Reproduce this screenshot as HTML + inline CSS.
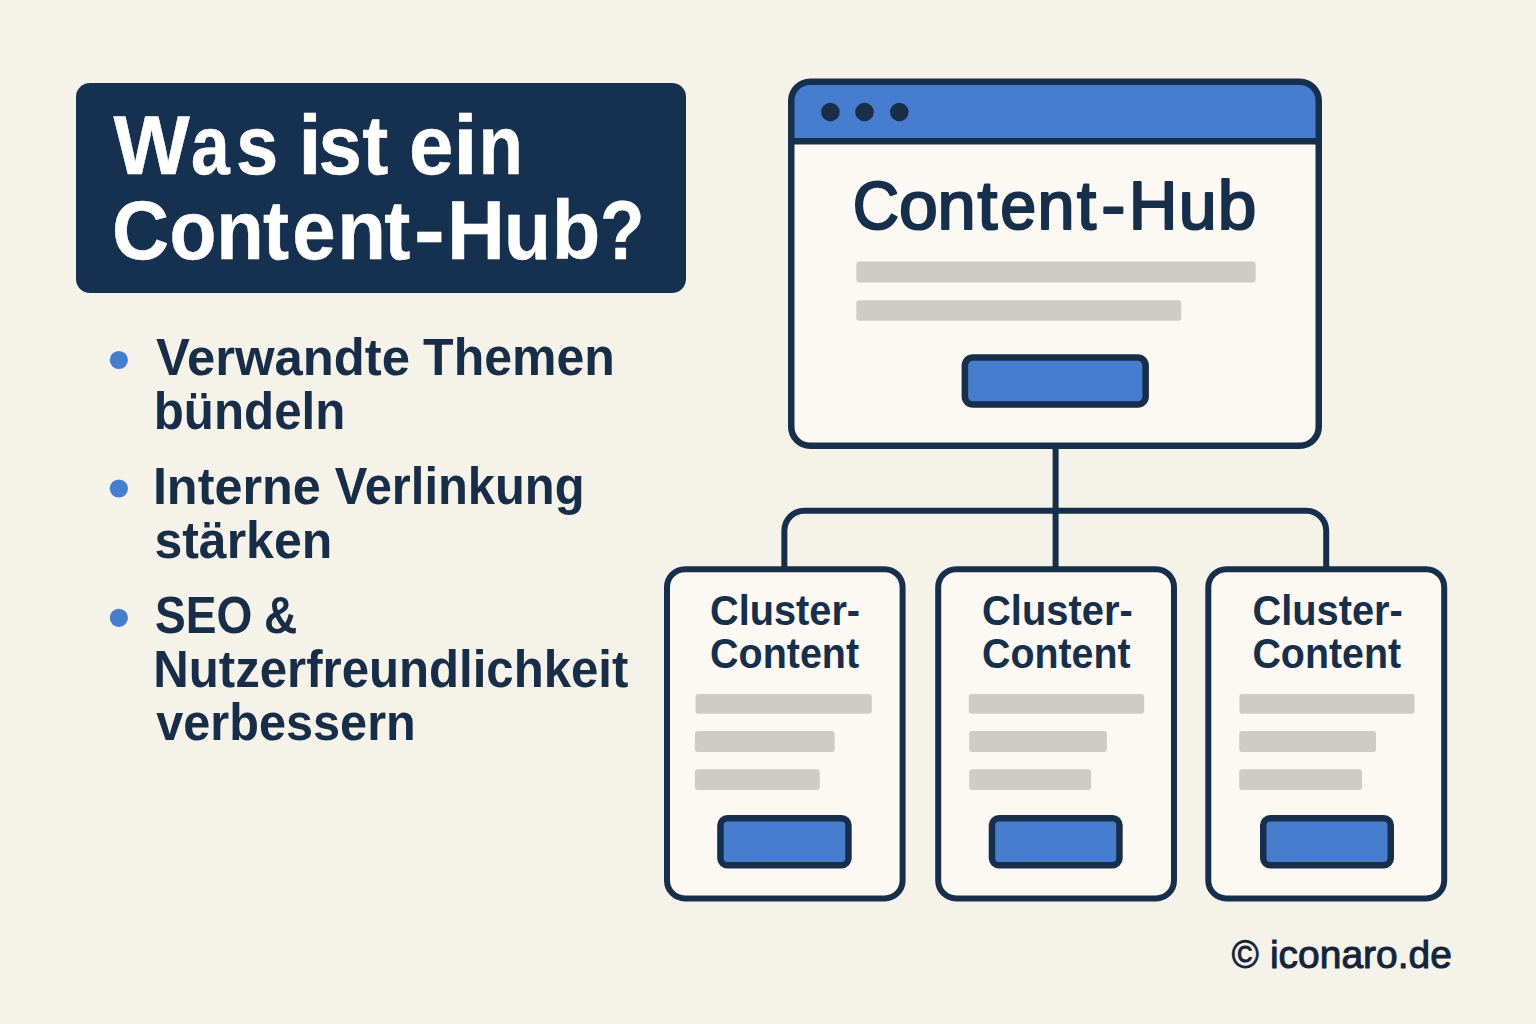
<!DOCTYPE html>
<html><head><meta charset="utf-8"><title>Was ist ein Content-Hub?</title>
<style>
html,body{margin:0;padding:0;width:1536px;height:1024px;overflow:hidden;background:#F5F2EA;}
svg{display:block;font-family:"Liberation Sans",sans-serif;}
</style></head><body>
<svg width="1536" height="1024" viewBox="0 0 1536 1024">
<rect width="1536" height="1024" fill="#F5F2EA"/>
<rect x="76" y="83" width="610" height="210" rx="14" fill="#16304F"/>
<circle cx="118.85" cy="360.0" r="9.1" fill="#467DCE"/>
<circle cx="118.85" cy="488.5" r="9.1" fill="#467DCE"/>
<circle cx="118.85" cy="617.8" r="9.1" fill="#467DCE"/>
<defs><clipPath id="hubclip"><rect x="791.25" y="81.75" width="527.5" height="364" rx="19"/></clipPath></defs>
<rect x="791.25" y="81.75" width="527.5" height="364" rx="19" fill="#FCF9F4"/>
<rect x="780" y="70" width="560" height="71.2" fill="#467DCE" clip-path="url(#hubclip)"/>
<line x1="788" y1="141.2" x2="1322" y2="141.2" stroke="#182F4B" stroke-width="6.5"/>
<rect x="791.25" y="81.75" width="527.5" height="364" rx="19" fill="none" stroke="#182F4B" stroke-width="6.5"/>
<circle cx="830.4" cy="112" r="9.3" fill="#1A2E4A"/>
<circle cx="864.5" cy="112" r="9.3" fill="#1A2E4A"/>
<circle cx="899.3" cy="112" r="9.3" fill="#1A2E4A"/>
<rect x="856.3" y="261.5" width="399.4" height="21" rx="3" fill="#CFCBC7"/>
<rect x="856.3" y="300.3" width="325" height="20.4" rx="3" fill="#CFCBC7"/>
<rect x="964.85" y="357.55" width="180.8" height="47.0" rx="8" fill="#467DCE" stroke="#182F4B" stroke-width="6.5"/>
<line x1="1055.6" y1="445" x2="1055.6" y2="570" stroke="#182F4B" stroke-width="6"/>
<path d="M784.35,570 V530.8 A20,20 0 0 1 804.3,510.8 H1306.2 A20,20 0 0 1 1326.2,530.8 V570" fill="none" stroke="#182F4B" stroke-width="6"/>
<rect x="667.00" y="569.20" width="235.60" height="329.30" rx="18" fill="#FCF9F4" stroke="#182F4B" stroke-width="6.0"/>
<rect x="695.50" y="694.10" width="176.30" height="19.60" rx="3" fill="#CFCBC7"/>
<rect x="694.90" y="731.10" width="139.80" height="20.80" rx="3" fill="#CFCBC7"/>
<rect x="694.90" y="769.20" width="124.90" height="20.80" rx="3" fill="#CFCBC7"/>
<rect x="720.45" y="818.25" width="128.00" height="47.00" rx="7" fill="#467DCE" stroke="#182F4B" stroke-width="6.5"/>
<rect x="938.20" y="569.20" width="235.80" height="329.30" rx="18" fill="#FCF9F4" stroke="#182F4B" stroke-width="6.0"/>
<rect x="968.75" y="694.10" width="175.35" height="19.60" rx="3" fill="#CFCBC7"/>
<rect x="969.20" y="731.10" width="137.70" height="20.80" rx="3" fill="#CFCBC7"/>
<rect x="969.20" y="769.20" width="121.90" height="20.80" rx="3" fill="#CFCBC7"/>
<rect x="991.95" y="818.25" width="127.50" height="47.00" rx="7" fill="#467DCE" stroke="#182F4B" stroke-width="6.5"/>
<rect x="1208.30" y="569.20" width="235.90" height="329.30" rx="18" fill="#FCF9F4" stroke="#182F4B" stroke-width="6.0"/>
<rect x="1239.40" y="694.10" width="175.20" height="19.60" rx="3" fill="#CFCBC7"/>
<rect x="1239.20" y="731.10" width="136.80" height="20.80" rx="3" fill="#CFCBC7"/>
<rect x="1239.20" y="769.20" width="122.80" height="20.80" rx="3" fill="#CFCBC7"/>
<rect x="1263.25" y="818.25" width="127.50" height="47.00" rx="7" fill="#467DCE" stroke="#182F4B" stroke-width="6.5"/>
<text transform="translate(113.44 174.40) scale(0.9604 1)" font-weight="bold" font-size="84.20" fill="#FFFFFF" stroke="#FFFFFF" stroke-width="0.50" stroke-linejoin="round">W</text>
<text transform="translate(191.11 174.40) scale(0.8267 1)" font-weight="bold" font-size="84.20" fill="#FFFFFF" stroke="#FFFFFF" stroke-width="0.50" stroke-linejoin="round">a</text>
<text transform="translate(235.95 174.40) scale(0.9028 1)" font-weight="bold" font-size="84.20" fill="#FFFFFF" stroke="#FFFFFF" stroke-width="0.50" stroke-linejoin="round">s</text>
<text transform="translate(298.17 174.40) scale(1.0053 1)" font-weight="bold" font-size="84.20" fill="#FFFFFF" stroke="#FFFFFF" stroke-width="0.50" stroke-linejoin="round">i</text>
<text transform="translate(318.49 174.40) scale(0.9268 1)" font-weight="bold" font-size="84.20" fill="#FFFFFF" stroke="#FFFFFF" stroke-width="0.50" stroke-linejoin="round">s</text>
<text transform="translate(362.25 174.40) scale(0.9292 1)" font-weight="bold" font-size="84.20" fill="#FFFFFF" stroke="#FFFFFF" stroke-width="0.50" stroke-linejoin="round">t</text>
<text transform="translate(408.94 174.40) scale(0.9507 1)" font-weight="bold" font-size="84.20" fill="#FFFFFF" stroke="#FFFFFF" stroke-width="0.50" stroke-linejoin="round">e</text>
<text transform="translate(452.88 174.40) scale(1.0663 1)" font-weight="bold" font-size="84.20" fill="#FFFFFF" stroke="#FFFFFF" stroke-width="0.50" stroke-linejoin="round">i</text>
<text transform="translate(478.45 174.40) scale(0.8645 1)" font-weight="bold" font-size="84.20" fill="#FFFFFF" stroke="#FFFFFF" stroke-width="0.50" stroke-linejoin="round">n</text>
<text transform="translate(111.98 259.20) scale(0.9381 1)" font-weight="bold" font-size="84.20" fill="#FFFFFF" stroke="#FFFFFF" stroke-width="0.50" stroke-linejoin="round">C</text>
<text transform="translate(169.62 259.20) scale(0.9122 1)" font-weight="bold" font-size="84.20" fill="#FFFFFF" stroke="#FFFFFF" stroke-width="0.50" stroke-linejoin="round">o</text>
<text transform="translate(216.16 259.20) scale(0.9244 1)" font-weight="bold" font-size="84.20" fill="#FFFFFF" stroke="#FFFFFF" stroke-width="0.50" stroke-linejoin="round">n</text>
<text transform="translate(262.95 259.20) scale(0.9292 1)" font-weight="bold" font-size="84.20" fill="#FFFFFF" stroke="#FFFFFF" stroke-width="0.50" stroke-linejoin="round">t</text>
<text transform="translate(292.19 259.20) scale(0.9272 1)" font-weight="bold" font-size="84.20" fill="#FFFFFF" stroke="#FFFFFF" stroke-width="0.50" stroke-linejoin="round">e</text>
<text transform="translate(337.15 259.20) scale(0.9483 1)" font-weight="bold" font-size="84.20" fill="#FFFFFF" stroke="#FFFFFF" stroke-width="0.50" stroke-linejoin="round">n</text>
<text transform="translate(384.25 259.20) scale(0.9292 1)" font-weight="bold" font-size="84.20" fill="#FFFFFF" stroke="#FFFFFF" stroke-width="0.50" stroke-linejoin="round">t</text>
<text transform="translate(413.90 259.20) scale(1.0975 1)" font-weight="bold" font-size="84.20" fill="#FFFFFF" stroke="#FFFFFF" stroke-width="0.50" stroke-linejoin="round">-</text>
<text transform="translate(447.03 259.20) scale(0.9526 1)" font-weight="bold" font-size="84.20" fill="#FFFFFF" stroke="#FFFFFF" stroke-width="0.50" stroke-linejoin="round">H</text>
<text transform="translate(504.01 259.20) scale(0.9148 1)" font-weight="bold" font-size="84.20" fill="#FFFFFF" stroke="#FFFFFF" stroke-width="0.50" stroke-linejoin="round">u</text>
<text transform="translate(551.67 259.20) scale(0.9438 1)" font-weight="bold" font-size="84.20" fill="#FFFFFF" stroke="#FFFFFF" stroke-width="0.50" stroke-linejoin="round">b</text>
<text transform="translate(600.00 259.20) scale(0.8649 1)" font-weight="bold" font-size="84.20" fill="#FFFFFF" stroke="#FFFFFF" stroke-width="0.50" stroke-linejoin="round">?</text>
<text transform="translate(155.90 374.90) scale(0.9848 1)" font-weight="bold" font-size="51.60" fill="#182D47">Verwandte</text>
<text transform="translate(423.10 374.90) scale(0.9697 1)" font-weight="bold" font-size="51.60" fill="#182D47">Themen</text>
<text transform="translate(153.74 428.50) scale(0.9553 1)" font-weight="bold" font-size="51.60" fill="#182D47">bündeln</text>
<text transform="translate(152.88 504.00) scale(0.9762 1)" font-weight="bold" font-size="51.60" fill="#182D47">Interne</text>
<text transform="translate(334.80 504.00) scale(0.9468 1)" font-weight="bold" font-size="51.60" fill="#182D47">Verlinkung</text>
<text transform="translate(154.40 557.80) scale(0.9693 1)" font-weight="bold" font-size="51.60" fill="#182D47">stärken</text>
<text transform="translate(154.98 632.70) scale(0.8935 1)" font-weight="bold" font-size="51.60" fill="#182D47">SEO</text>
<text transform="translate(264.06 632.70) scale(0.8926 1)" font-weight="bold" font-size="51.60" fill="#182D47">&amp;</text>
<text transform="translate(153.35 687.00) scale(0.9524 1)" font-weight="bold" font-size="51.60" fill="#182D47">Nutzerfreundlichkeit</text>
<text transform="translate(156.30 739.80) scale(0.9422 1)" font-weight="bold" font-size="51.60" fill="#182D47">verbessern</text>
<text transform="translate(710.01 624.90) scale(0.9527 1)" font-weight="bold" font-size="41.70" fill="#182F4B">Cluster-</text>
<text transform="translate(710.02 667.70) scale(0.9467 1)" font-weight="bold" font-size="41.70" fill="#182F4B">Content</text>
<text transform="translate(982.00 624.90) scale(0.9566 1)" font-weight="bold" font-size="41.70" fill="#182F4B">Cluster-</text>
<text transform="translate(982.03 667.70) scale(0.9435 1)" font-weight="bold" font-size="41.70" fill="#182F4B">Content</text>
<text transform="translate(1252.41 624.90) scale(0.9553 1)" font-weight="bold" font-size="41.70" fill="#182F4B">Cluster-</text>
<text transform="translate(1252.42 667.70) scale(0.9448 1)" font-weight="bold" font-size="41.70" fill="#182F4B">Content</text>
<text transform="translate(852.82 228.90) scale(0.9361 1)" font-weight="normal" font-size="68.50" fill="#182F4B" stroke="#182F4B" stroke-width="2.20" stroke-linejoin="round">C</text>
<text transform="translate(898.93 228.90) scale(1.0177 1)" font-weight="normal" font-size="68.50" fill="#182F4B" stroke="#182F4B" stroke-width="2.20" stroke-linejoin="round">o</text>
<text transform="translate(937.38 228.90) scale(1.0019 1)" font-weight="normal" font-size="68.50" fill="#182F4B" stroke="#182F4B" stroke-width="2.20" stroke-linejoin="round">n</text>
<text transform="translate(977.43 228.90) scale(1.0437 1)" font-weight="normal" font-size="68.50" fill="#182F4B" stroke="#182F4B" stroke-width="2.20" stroke-linejoin="round">t</text>
<text transform="translate(1000.35 228.90) scale(0.9436 1)" font-weight="normal" font-size="68.50" fill="#182F4B" stroke="#182F4B" stroke-width="2.20" stroke-linejoin="round">e</text>
<text transform="translate(1037.38 228.90) scale(0.9709 1)" font-weight="normal" font-size="68.50" fill="#182F4B" stroke="#182F4B" stroke-width="2.20" stroke-linejoin="round">n</text>
<text transform="translate(1076.92 228.90) scale(1.0051 1)" font-weight="normal" font-size="68.50" fill="#182F4B" stroke="#182F4B" stroke-width="2.20" stroke-linejoin="round">t</text>
<text transform="translate(1101.36 228.90) scale(1.0608 1)" font-weight="normal" font-size="68.50" fill="#182F4B" stroke="#182F4B" stroke-width="2.20" stroke-linejoin="round">-</text>
<text transform="translate(1128.69 228.90) scale(0.9844 1)" font-weight="normal" font-size="68.50" fill="#182F4B" stroke="#182F4B" stroke-width="2.20" stroke-linejoin="round">H</text>
<text transform="translate(1178.80 228.90) scale(0.9951 1)" font-weight="normal" font-size="68.50" fill="#182F4B" stroke="#182F4B" stroke-width="2.20" stroke-linejoin="round">u</text>
<text transform="translate(1217.75 228.90) scale(1.0145 1)" font-weight="normal" font-size="68.50" fill="#182F4B" stroke="#182F4B" stroke-width="2.20" stroke-linejoin="round">b</text>
<text transform="translate(1231.81 967.60) scale(0.9506 1)" font-weight="normal" font-size="38.50" fill="#15243A" stroke="#15243A" stroke-width="1.00" stroke-linejoin="round">©</text>
<text transform="translate(1269.97 967.60) scale(1.0119 1)" font-weight="normal" font-size="38.50" fill="#15243A" stroke="#15243A" stroke-width="1.00" stroke-linejoin="round">iconaro.de</text>
</svg>
</body></html>
